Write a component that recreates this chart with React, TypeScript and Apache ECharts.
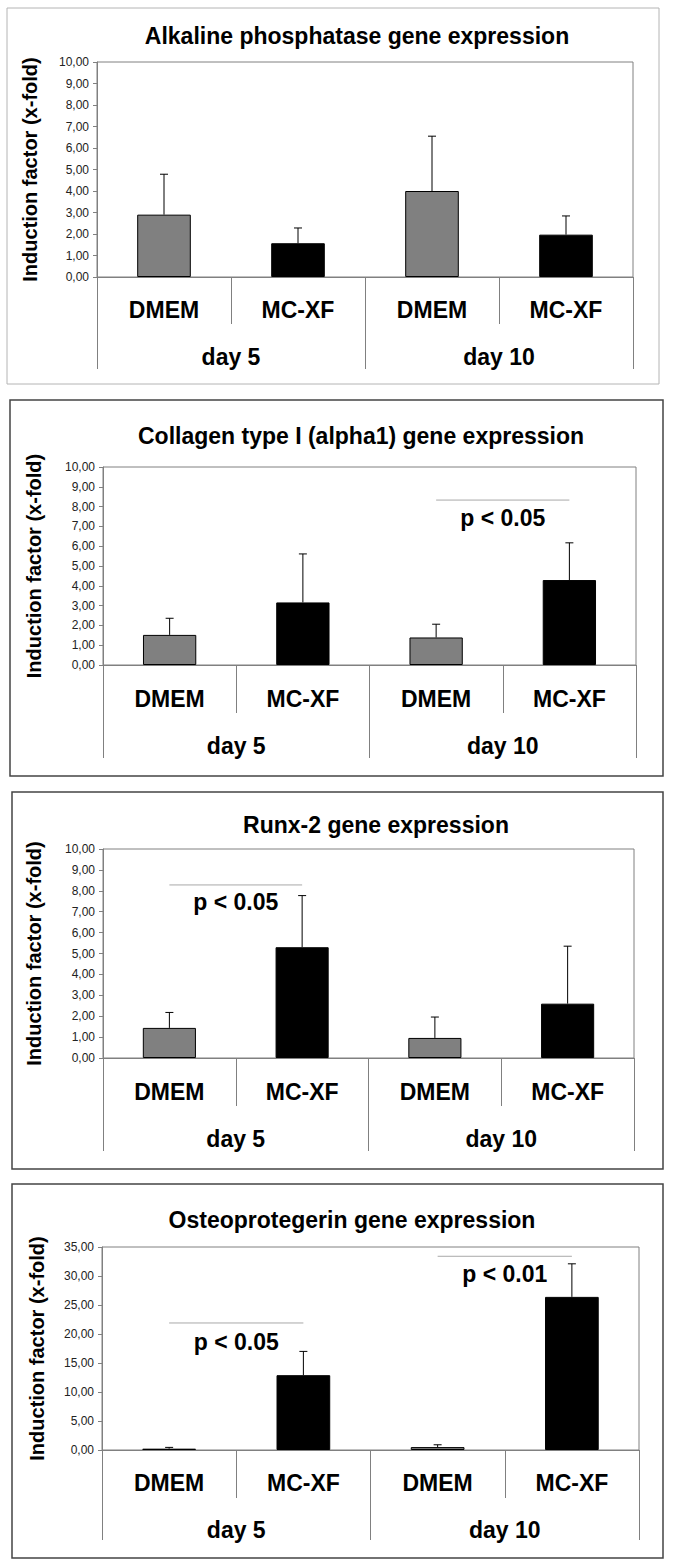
import React, { useEffect, useRef } from 'react';
import * as echarts from 'echarts';

// ---------- data ----------
const categories = ['DMEM', 'MC-XF', 'DMEM', 'MC-XF'];
const days = ['day 5', 'day 10'];
const yAxisName = 'Induction factor (x-fold)';

const alpTitle = 'Alkaline phosphatase gene expression';
const alpMean = [2.9, 1.57, 4.0, 1.97];
const alpUpper = [4.78, 2.28, 6.55, 2.84];

const colTitle = 'Collagen type I (alpha1) gene expression';
const colMean = [1.52, 3.16, 1.39, 4.29];
const colUpper = [2.36, 5.61, 2.06, 6.17];

const runxTitle = 'Runx-2 gene expression';
const runxMean = [1.44, 5.3, 0.96, 2.6];
const runxUpper = [2.18, 7.77, 1.96, 5.35];

const opgTitle = 'Osteoprotegerin gene expression';
const opgMean = [0.23, 12.9, 0.5, 26.4];
const opgUpper = [0.45, 17.0, 0.9, 32.1];

type Sig = { from: number; to: number; y: number; text: string; textY: number };
const alpSig: Sig[] = [];
const colSig: Sig[] = [{ from: 2, to: 3, y: 8.33, text: 'p < 0.05', textY: 7.42 }];
const runxSig: Sig[] = [{ from: 0, to: 1, y: 8.28, text: 'p < 0.05', textY: 7.46 }];
const opgSig: Sig[] = [
  { from: 0, to: 1, y: 21.9, text: 'p < 0.05', textY: 18.7 },
  { from: 2, to: 3, y: 33.4, text: 'p < 0.01', textY: 30.3 },
];

const yMaxes = [10, 10, 10, 35];
const yIntervals = [1, 1, 1, 5];

const panels = [
  { title: alpTitle, mean: alpMean, upper: alpUpper, sig: alpSig },
  { title: colTitle, mean: colMean, upper: colUpper, sig: colSig },
  { title: runxTitle, mean: runxMean, upper: runxUpper, sig: runxSig },
  { title: opgTitle, mean: opgMean, upper: opgUpper, sig: opgSig },
];

// ---------- layout / style ----------
const FONT = '"Liberation Sans", Arial, Helvetica, sans-serif';
const AXIS_GRAY = '#808080';

const layout = [
  { box: [7, 8, 652, 376], boxColor: '#b4b4b4', boxWidth: 1, grid: { left: 97, top: 62, width: 536, height: 215 }, titleX: 357, titleY: 36, nameGap: 57, catMargin: 21, dayMargin: 68, shortTick: 47, longTick: 92 },
  { box: [10, 400, 653, 376], boxColor: '#444444', boxWidth: 1.5, grid: { left: 103, top: 467, width: 533, height: 198 }, titleX: 361, titleY: 436, nameGap: 59, catMargin: 22, dayMargin: 69, shortTick: 48, longTick: 93 },
  { box: [12, 792, 651, 377], boxColor: '#444444', boxWidth: 1.5, grid: { left: 103, top: 849, width: 531, height: 209 }, titleX: 376, titleY: 825, nameGap: 59, catMargin: 22, dayMargin: 69, shortTick: 48, longTick: 93 },
  { box: [12, 1184, 651, 374], boxColor: '#444444', boxWidth: 1.5, grid: { left: 102, top: 1247, width: 537, height: 203 }, titleX: 352, titleY: 1220, nameGap: 55, catMargin: 21, dayMargin: 68, shortTick: 48, longTick: 90 },
];

function buildOption(): any {
  const grid: any[] = [];
  const xAxis: any[] = [];
  const yAxis: any[] = [];
  const series: any[] = [];
  const graphic: any[] = [];

  panels.forEach((p, i) => {
    const l = layout[i];
    grid.push({ ...l.grid, show: true, borderColor: AXIS_GRAY, borderWidth: 1, backgroundColor: 'transparent' });

    xAxis.push({
      gridIndex: i,
      type: 'category',
      data: categories,
      position: 'bottom',
      axisLine: { show: true, lineStyle: { color: AXIS_GRAY, width: 1 } },
      axisTick: { show: true, length: l.shortTick, interval: 0, lineStyle: { color: AXIS_GRAY, width: 1 } },
      axisLabel: { interval: 0, margin: l.catMargin, fontFamily: FONT, fontWeight: 'bold', fontSize: 23, color: '#000' },
      splitLine: { show: false },
    });
    xAxis.push({
      gridIndex: i,
      type: 'category',
      data: days,
      position: 'bottom',
      axisLine: { show: false },
      axisTick: { show: true, length: l.longTick, interval: 0, lineStyle: { color: AXIS_GRAY, width: 1 } },
      axisLabel: { interval: 0, margin: l.dayMargin, fontFamily: FONT, fontWeight: 'bold', fontSize: 23, color: '#000' },
      splitLine: { show: false },
    });

    yAxis.push({
      gridIndex: i,
      type: 'value',
      min: 0,
      max: yMaxes[i],
      interval: yIntervals[i],
      axisLine: { show: true, lineStyle: { color: AXIS_GRAY, width: 1 } },
      axisTick: { show: true, length: 4, lineStyle: { color: AXIS_GRAY, width: 1 } },
      axisLabel: {
        formatter: (v: number) => v.toFixed(2).replace('.', ','),
        fontFamily: FONT,
        fontSize: 12,
        color: '#222',
        margin: 8,
      },
      splitLine: { show: false },
      name: yAxisName,
      nameLocation: 'middle',
      nameGap: l.nameGap,
      nameTextStyle: { fontFamily: FONT, fontWeight: 'bold', fontSize: 20, color: '#000' },
    });

    series.push({
      type: 'bar',
      xAxisIndex: 2 * i,
      yAxisIndex: i,
      barWidth: '40%',
      itemStyle: { borderColor: '#000', borderWidth: 1 },
      data: p.mean.map((v, j) => ({ value: v, itemStyle: { color: j % 2 === 0 ? '#808080' : '#000000' } })),
      z: 2,
    });

    series.push({
      type: 'custom',
      xAxisIndex: 2 * i,
      yAxisIndex: i,
      encode: { x: 0, y: [1, 2] },
      data: p.mean.map((v, j) => [j, v, p.upper[j]]),
      z: 3,
      renderItem: (params: any, api: any) => {
        const x = api.value(0);
        const p0 = api.coord([x, api.value(1)]);
        const p1 = api.coord([x, api.value(2)]);
        const cap = 4;
        return {
          type: 'group',
          children: [
            { type: 'line', shape: { x1: p0[0], y1: p0[1], x2: p1[0], y2: p1[1] }, style: { stroke: '#000', lineWidth: 1 } },
            { type: 'line', shape: { x1: p1[0] - cap, y1: p1[1], x2: p1[0] + cap, y2: p1[1] }, style: { stroke: '#000', lineWidth: 1 } },
          ],
        };
      },
    });

    if (p.sig.length) {
      const sigs = p.sig;
      series.push({
        type: 'custom',
        xAxisIndex: 2 * i,
        yAxisIndex: i,
        encode: { x: [0, 1], y: [2, 3] },
        data: sigs.map((s) => [s.from, s.to, s.y, s.textY]),
        z: 4,
        renderItem: (params: any, api: any) => {
          const a = api.coord([api.value(0), api.value(2)]);
          const b = api.coord([api.value(1), api.value(2)]);
          const t = api.coord([(api.value(0) + api.value(1)) / 2, api.value(3)]);
          const midX = (a[0] + b[0]) / 2;
          return {
            type: 'group',
            children: [
              { type: 'line', shape: { x1: a[0], y1: a[1], x2: b[0], y2: b[1] }, style: { stroke: '#a8a8a8', lineWidth: 1 } },
              {
                type: 'text',
                x: midX,
                y: t[1],
                style: {
                  text: sigs[params.dataIndex].text,
                  fill: '#000',
                  font: `bold 23px ${FONT}`,
                  align: 'center',
                  verticalAlign: 'middle',
                },
              },
            ],
          };
        },
      });
    }

    graphic.push({
      type: 'rect',
      silent: true,
      z: -1,
      shape: { x: l.box[0], y: l.box[1], width: l.box[2], height: l.box[3] },
      style: { fill: 'none', stroke: l.boxColor, lineWidth: l.boxWidth },
    });
    graphic.push({
      type: 'text',
      silent: true,
      x: l.titleX,
      y: l.titleY,
      style: {
        text: p.title,
        fill: '#000',
        font: `bold 23px ${FONT}`,
        align: 'center',
        verticalAlign: 'middle',
      },
    });
  });

  return {
    animation: false,
    backgroundColor: '#ffffff',
    grid,
    xAxis,
    yAxis,
    series,
    graphic,
  };
}

export default function App() {
  const ref = useRef<HTMLDivElement>(null);
  useEffect(() => {
    if (!ref.current) return;
    const chart = echarts.init(ref.current, undefined, { renderer: 'svg' });
    chart.setOption(buildOption());
    return () => chart.dispose();
  }, []);
  return (
    <div
      ref={ref}
      style={{ position: 'absolute', left: 0, top: 0, width: 673, height: 1568, background: '#fff' }}
    />
  );
}
